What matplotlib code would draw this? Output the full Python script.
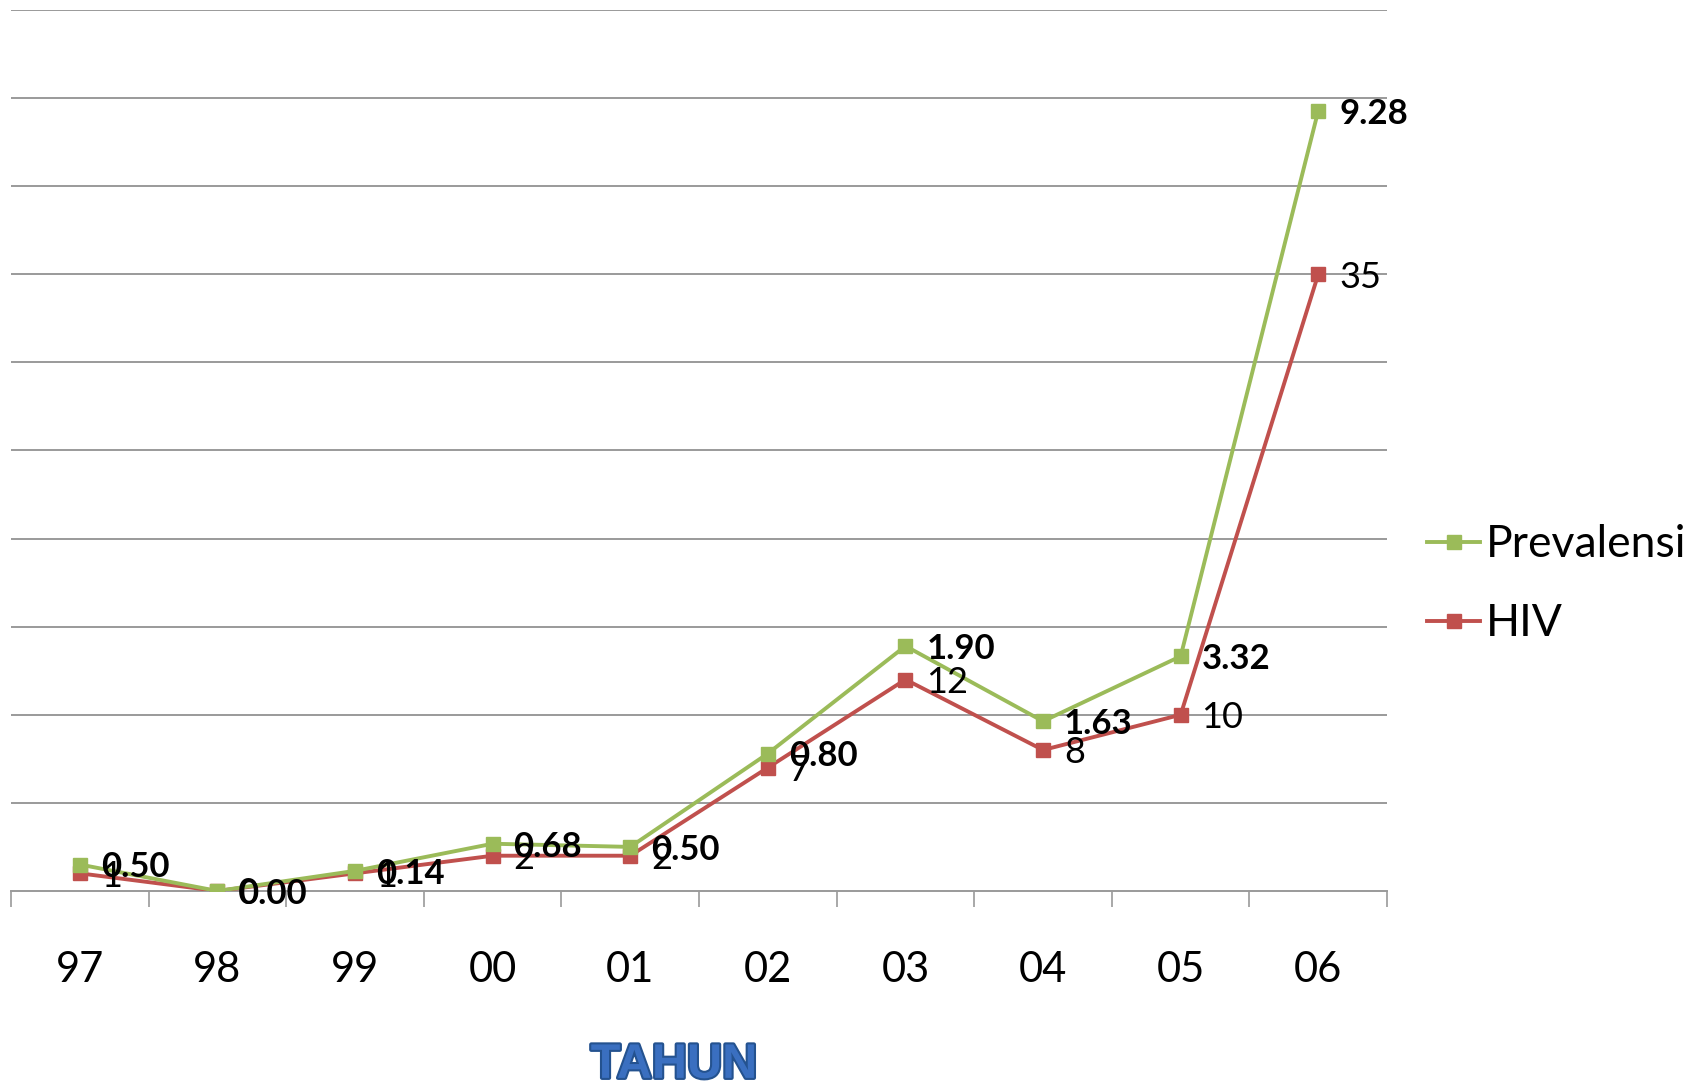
import matplotlib
matplotlib.use("Agg")
import matplotlib.pyplot as plt
import matplotlib.patheffects as pe
import numpy as np

plt.rcParams["font.family"] = ["Lato", "DejaVu Sans"]

YEARS = ["97", "98", "99", "00", "01", "02", "03", "04", "05", "06"]
HIV = [1, 0, 1, 2, 2, 7, 12, 8, 10, 35]
PREVALENSI = [0.50, 0.00, 0.14, 0.68, 0.50, 0.80, 1.90, 1.63, 3.32, 9.28]

GREEN = "#9BBB59"
RED = "#C0504D"
GRID = "#9a9a9a"

x = np.arange(len(YEARS))
hiv = np.array(HIV, dtype=float)
# stacked line chart: Prevalensi sits on top of HIV
prev_stacked = hiv + np.array(PREVALENSI)

fig = plt.figure(figsize=(17.04, 10.86), dpi=100)
ax = fig.add_axes([0.0065, 0.1796, 0.8075, 0.8112])

ax.plot(x, hiv, color=RED, linewidth=2.8, marker="s", markersize=10, label="HIV", zorder=3)
ax.plot(x, prev_stacked, color=GREEN, linewidth=2.8, marker="s", markersize=10,
        label="Prevalensi", zorder=4)

for xi, v in zip(x, HIV):
    ax.annotate(f"{v}", (xi, v), xytext=(15, -2), textcoords="offset points",
                ha="left", va="center", fontsize=26, color="black", zorder=5)
for xi, v, p in zip(x, prev_stacked, PREVALENSI):
    ax.annotate(f"{p:.2f}", (xi, v), xytext=(15, -2), textcoords="offset points",
                ha="left", va="center", fontsize=25, fontweight="bold", color="black", zorder=6)

ax.set_xlim(-0.5, len(YEARS) - 0.5)
ax.set_ylim(0, 50)
ax.set_yticks(np.arange(5, 51, 5))
ax.yaxis.grid(True, color=GRID, linewidth=1.4)
ax.set_axisbelow(True)
ax.tick_params(axis="y", left=False, labelleft=False)

ax.set_xticks(x)
ax.set_xticklabels(YEARS, fontsize=30)
ax.set_xticks(np.arange(-0.5, len(YEARS), 1), minor=True)
ax.tick_params(axis="x", which="major", length=0, pad=43)
ax.tick_params(axis="x", which="minor", length=11.5, width=1.2, color=GRID, direction="out")

for s in ["top", "right", "left"]:
    ax.spines[s].set_visible(False)
ax.spines["bottom"].set_color(GRID)
ax.spines["bottom"].set_linewidth(1.4)

handles, labels = ax.get_legend_handles_labels()
fig.legend(handles[::-1], labels[::-1], loc="center left", bbox_to_anchor=(0.8374, 0.462),
           frameon=False, fontsize=32, handlelength=1.2, handletextpad=0.12,
           borderpad=0, borderaxespad=0, labelspacing=0.85)

fig.text(0.3955, 0.019, "TAHUN", ha="center", va="center", fontsize=35,
         fontweight="bold", family="Liberation Sans", color="#3a6fc0",
         path_effects=[pe.withStroke(linewidth=3, foreground="#24528f")])

fig.savefig("out.png", dpi=100)
